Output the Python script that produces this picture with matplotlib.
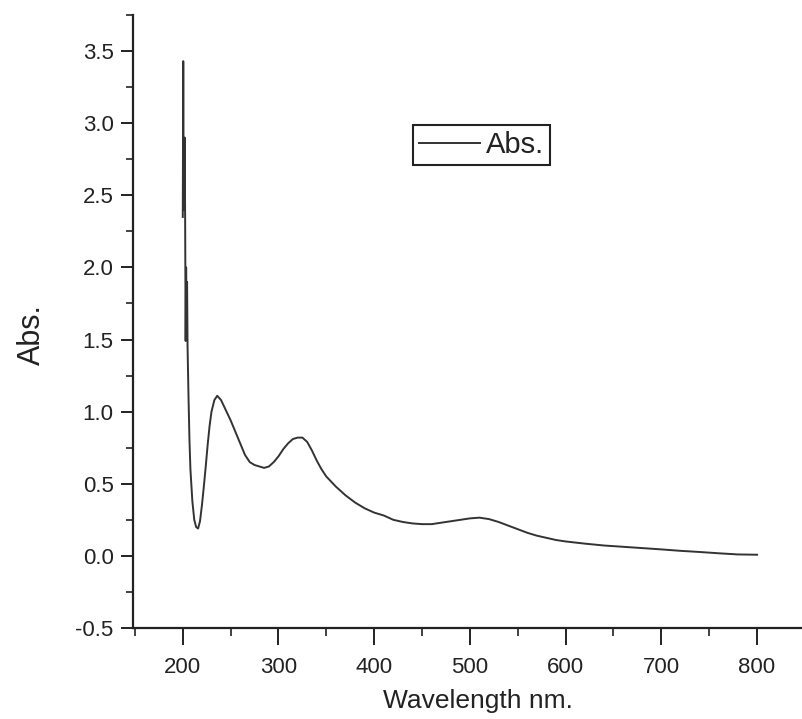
import matplotlib
matplotlib.use('Agg')
import matplotlib.pyplot as plt
from matplotlib.ticker import MultipleLocator

wavelength = [200, 200.5, 201, 201.5, 202, 202.5, 203, 203.5, 204, 204.5, 205,
              206, 207, 208, 210, 212, 214, 216, 218, 220, 222, 224, 226, 228,
              230, 233, 236, 240, 245, 250, 255, 260, 265, 270, 275, 280, 285,
              290, 295, 300, 305, 310, 315, 320, 325, 330, 335, 340, 345, 350,
              360, 370, 380, 390, 400, 410, 420, 430, 440, 450, 460, 470, 480,
              490, 500, 510, 520, 530, 540, 550, 560, 570, 580, 590, 600, 620,
              640, 660, 680, 700, 720, 740, 760, 780, 800]
absorbance = [2.35, 3.43, 2.4, 2.55, 2.9, 2.3, 1.49, 2.0, 1.7, 1.9, 1.45,
              1.1, 0.8, 0.6, 0.38, 0.25, 0.2, 0.19, 0.24, 0.35, 0.48, 0.62, 0.77, 0.9,
              1.0, 1.08, 1.11, 1.08, 1.01, 0.94, 0.86, 0.78, 0.7, 0.65, 0.63, 0.62, 0.61,
              0.62, 0.65, 0.69, 0.74, 0.78, 0.81, 0.82, 0.82, 0.79, 0.73, 0.66, 0.6, 0.55,
              0.48, 0.42, 0.37, 0.33, 0.3, 0.28, 0.25, 0.235, 0.225, 0.22, 0.22, 0.23, 0.24,
              0.25, 0.26, 0.265, 0.255, 0.235, 0.21, 0.185, 0.16, 0.14, 0.125, 0.11, 0.1, 0.085,
              0.072, 0.063, 0.054, 0.045, 0.035, 0.027, 0.018, 0.01, 0.008]

plt.rcParams['font.family'] = ['Liberation Sans', 'DejaVu Sans']
ink = '#222222'

fig = plt.figure(figsize=(8.03, 7.19), dpi=100)
ax = fig.add_axes([133 / 803, 1 - 628 / 719, 670 / 803, 613 / 719])

ax.plot(wavelength, absorbance, color='#333333', lw=1.4, label='Abs.')

ax.set_xlim(148, 848)
ax.set_ylim(-0.5, 3.75)
ax.xaxis.set_minor_locator(MultipleLocator(50))
ax.yaxis.set_major_locator(MultipleLocator(0.5))
ax.yaxis.set_minor_locator(MultipleLocator(0.25))
ax.set_xticks(range(200, 801, 100))
ax.yaxis.set_major_formatter(matplotlib.ticker.FormatStrFormatter('%.1f'))

for s in ['top', 'right']:
    ax.spines[s].set_visible(False)
for s in ['left', 'bottom']:
    ax.spines[s].set_linewidth(1.6)
    ax.spines[s].set_color(ink)

ax.tick_params(which='major', direction='out', length=9, width=1.4,
               colors=ink, labelsize=16, pad=5)
ax.tick_params(which='minor', direction='out', length=5, width=1.2, colors=ink)
ax.tick_params(axis='x', which='major', length=12, pad=9)
ax.tick_params(axis='x', which='minor', length=6)

ax.set_xlabel('Wavelength nm.', fontsize=19, color=ink)
ax.xaxis.set_label_coords(0.515, -0.099, transform=ax.transAxes)
ax.xaxis.label.set_va('top')
ax.set_ylabel('Abs.', fontsize=22, color=ink)
ax.yaxis.set_label_coords(47 / 803, 1 - 335 / 719, transform=fig.transFigure)

leg = ax.legend(loc='upper left', bbox_to_anchor=(413 / 803, 1 - 125 / 719),
                bbox_transform=fig.transFigure, borderaxespad=0, fancybox=False,
                framealpha=1, edgecolor=ink, fontsize=21, handlelength=2.1,
                handletextpad=0.2, borderpad=0.2)
leg.get_frame().set_linewidth(1.5)
for t in leg.get_texts():
    t.set_color(ink)

fig.savefig('out.png', dpi=100)
